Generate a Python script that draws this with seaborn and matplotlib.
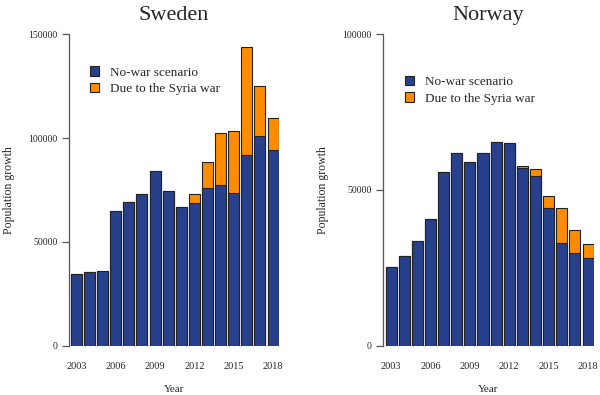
import numpy as np
import matplotlib
matplotlib.use('Agg')
import matplotlib.pyplot as plt
import seaborn as sns
from matplotlib.patches import Patch

# Data
years = list(range(2003, 2019))
sweden_nowar = [34500, 35500, 36100, 65000, 69400, 73100, 84200, 74500,
                66800, 68900, 75800, 77600, 73600, 92000, 101200, 94300]
sweden_war = [0, 0, 0, 0, 0, 0, 0, 0,
              0, 4000, 12800, 24700, 30000, 51900, 23800, 15400]
norway_nowar = [25200, 28800, 33700, 40800, 55800, 62000, 59000, 62000,
                65300, 65100, 57000, 54500, 44100, 32900, 29900, 28300]
norway_war = [0, 0, 0, 0, 0, 0, 0, 0,
              0, 0, 800, 2100, 4100, 11300, 7300, 4200]
tick_years = [2003, 2006, 2009, 2012, 2015, 2018]
labels = ['No-war scenario', 'Due to the Syria war']

blue = '#27408B'
orange = '#FF8C00'
edge = '#222222'

sns.set_style('white')
plt.rcParams['font.family'] = ['Liberation Serif', 'DejaVu Serif']

fig = plt.figure(figsize=(6, 3.95), dpi=100)
ax1 = fig.add_axes([0.115, 0.125, 0.35, 0.788])
ax2 = fig.add_axes([0.638, 0.125, 0.352, 0.788])

panels = [
    (ax1, 'Sweden', sweden_nowar, sweden_war, 150000, (0.10, 0.897), -0.56),
    (ax2, 'Norway', norway_nowar, norway_war, 100000, (0.104, 0.866), -0.63),
]

for ax, title, nowar, war, ymax, leg_pos, xleft in panels:
    total = np.array(nowar) + np.array(war)
    sns.barplot(x=years, y=total, color=orange, saturation=1, width=0.84,
                edgecolor=edge, linewidth=0.8, ax=ax)
    sns.barplot(x=years, y=nowar, color=blue, saturation=1, width=0.84,
                edgecolor=edge, linewidth=0.8, ax=ax)

    ax.set_xlim(xleft, 15.45)
    ax.set_ylim(0, ymax)
    ax.set_yticks(np.arange(0, ymax + 1, 50000))
    ax.set_yticklabels([str(int(v)) for v in np.arange(0, ymax + 1, 50000)])
    ax.set_xticks([years.index(y) for y in tick_years])
    ax.set_xticklabels([str(y) for y in tick_years])

    for s in ['top', 'right', 'bottom']:
        ax.spines[s].set_visible(False)
    ax.spines['left'].set_color('#555555')
    ax.spines['left'].set_linewidth(0.9)
    ax.tick_params(axis='y', direction='out', length=5, width=0.9,
                   color='#555555', labelsize=7, pad=3, left=True)
    ax.tick_params(axis='x', length=0, labelsize=7.5, pad=12)

    ax.set_title(title, fontsize=16, pad=10)
    ax.set_xlabel('Year', fontsize=8, labelpad=10)
    ax.set_ylabel('Population growth', fontsize=8.5, labelpad=10)

    handles = [Patch(facecolor=blue, edgecolor=edge, linewidth=0.8),
               Patch(facecolor=orange, edgecolor=edge, linewidth=0.8)]
    ax.legend(handles, labels, loc='upper left', bbox_to_anchor=leg_pos,
              frameon=False, fontsize=9.5, handlelength=0.7, handleheight=0.7,
              handletextpad=0.8, labelspacing=0.3, borderpad=0,
              borderaxespad=0)

fig.savefig('out.png', dpi=100)
